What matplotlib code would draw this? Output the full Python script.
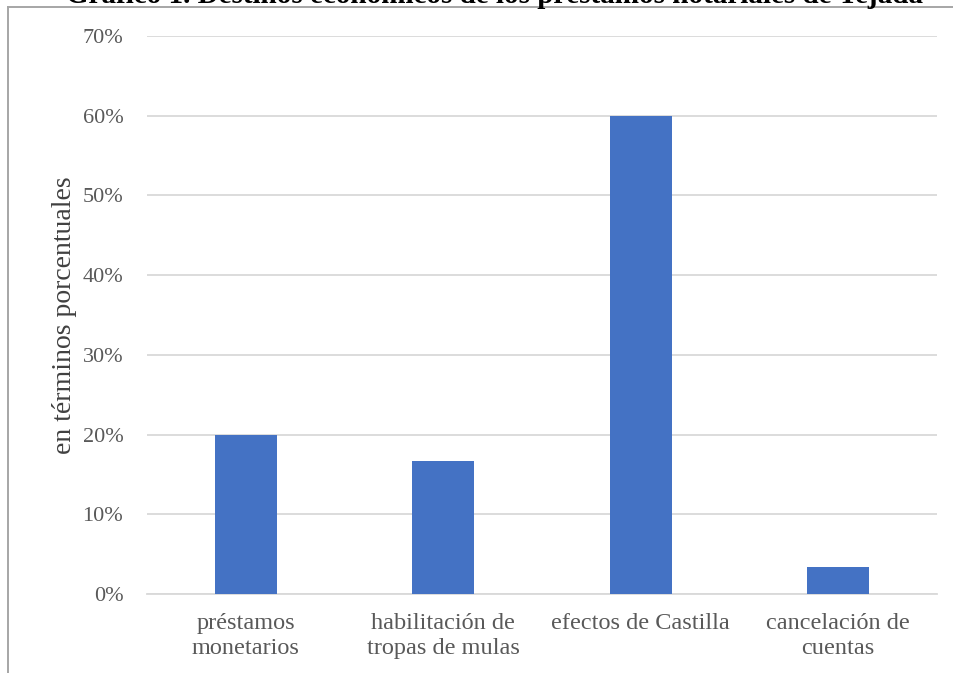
import numpy as np
import matplotlib.pyplot as plt
from matplotlib.lines import Line2D
from matplotlib.ticker import PercentFormatter

# destinos de los préstamos (30 escrituras)
categorias = ['préstamos\nmonetarios', 'habilitación de\ntropas de mulas',
              'efectos de Castilla', 'cancelación de\ncuentas']
valores = [0.20, 0.1667, 0.60, 0.0333]
ticks_y = [0, 0.1, 0.2, 0.3, 0.4, 0.5, 0.6, 0.7]

plt.rcParams['font.family'] = ['Liberation Serif', 'DejaVu Serif']

fig = plt.figure(figsize=(9.54, 6.73), dpi=100)
ax = fig.add_axes([0.154, 0.1174, 0.828, 0.8291])

x = np.arange(len(categorias))
ax.bar(x, valores, width=0.315, color='#4472C4', zorder=3)

ax.set_xlim(-0.5, len(categorias) - 0.5)
ax.set_ylim(0, 0.7)
ax.set_yticks(ticks_y)
ax.yaxis.set_major_formatter(PercentFormatter(1.0, decimals=0))
ax.set_xticks(x)
ax.set_xticklabels(categorias, fontsize=17.5, color='#595959', linespacing=1.2)
ax.tick_params(axis='y', labelsize=16, labelcolor='#595959', length=0, pad=17)
ax.tick_params(axis='x', length=0, pad=14)
ax.grid(axis='y', color='#d9d9d9', lw=1.3, zorder=0)
for s in ['top', 'right', 'left']:
    ax.spines[s].set_visible(False)
ax.spines['bottom'].set_color('#d9d9d9')
ax.spines['bottom'].set_linewidth(1.3)

ax.set_ylabel('en términos porcentuales', fontsize=20, color='#404040', labelpad=4)

# marco del gráfico (recortado)
fig.add_artist(Line2D([8 / 954, 1], [1 - 7 / 673, 1 - 7 / 673], color='#a6a6a6', lw=1.4))
fig.add_artist(Line2D([8 / 954, 8 / 954], [0, 1 - 7 / 673], color='#a6a6a6', lw=1.4))

fig.text(494 / 954, 1 - 3 / 673, 'Gráfico 1. Destinos económicos de los préstamos notariales de Tejada',
         ha='center', va='baseline', fontsize=21, fontweight='bold', color='black')

fig.savefig('out.png', dpi=100)
